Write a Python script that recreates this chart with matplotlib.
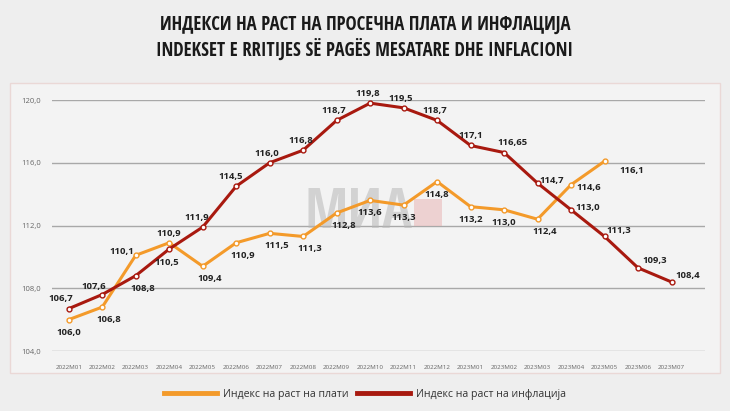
import matplotlib
matplotlib.use("Agg")
import matplotlib.pyplot as plt
from matplotlib.patches import Rectangle

months = ["2022M01", "2022M02", "2022M03", "2022M04", "2022M05", "2022M06", "2022M07",
          "2022M08", "2022M09", "2022M10", "2022M11", "2022M12", "2023M01", "2023M02",
          "2023M03", "2023M04", "2023M05", "2023M06", "2023M07"]
wages = [106.0, 106.8, 110.1, 110.9, 109.4, 110.9, 111.5, 111.3, 112.8, 113.6, 113.3,
         114.8, 113.2, 113.0, 112.4, 114.6, 116.1]
inflation = [106.7, 107.6, 108.8, 110.5, 111.9, 114.5, 116.0, 116.8, 118.7, 119.8, 119.5,
             118.7, 117.1, 116.65, 114.7, 113.0, 111.3, 109.3, 108.4]
wage_labels = ["106,0", "106,8", "110,1", "110,9", "109,4", "110,9", "111,5", "111,3", "112,8",
               "113,6", "113,3", "114,8", "113,2", "113,0", "112,4", "114,6", "116,1"]
infl_labels = ["106,7", "107,6", "108,8", "110,5", "111,9", "114,5", "116,0", "116,8", "118,7",
               "119,8", "119,5", "118,7", "117,1", "116,65", "114,7", "113,0", "111,3", "109,3", "108,4"]
yticks = [104, 108, 112, 116, 120]
ytick_labels = ["104,0", "108,0", "112,0", "116,0", "120,0"]
title1 = "ИНДЕКСИ НА РАСТ НА ПРОСЕЧНА ПЛАТА И ИНФЛАЦИЈА"
title2 = "INDEKSET E RRITIJES SË PAGËS MESATARE DHE INFLACIONI"
legend_names = ["Индекс на раст на плати", "Индекс на раст на инфлација"]

# label offsets in points (style only)
wage_off = [(0, -9), (5, -9), (-10, 3), (0, 7), (5, -9), (5, -9), (5, -9), (5, -9), (5, -9),
            (0, -9), (0, -9), (0, -9), (0, -9), (0, -9), (5, -9), (13, -2), (20, -7)]
infl_off = [(-6, 7), (-6, 6), (5, -9), (-2, -10), (-4, 7), (-4, 7), (-2, 7), (-2, 7), (-2, 7),
            (-2, 7), (-2, 7), (-2, 7), (0, 7), (6, 7), (10, 2), (12, 2), (10, 4), (12, 5), (12, 5)]

ORANGE = "#f39a2a"
RED = "#a8190f"
TITLE_FONT = ["Open Sans Condensed", "Roboto", "DejaVu Sans"]
NUM_FONT = ["Open Sans", "DejaVu Sans"]

fig = plt.figure(figsize=(7.30, 4.11), dpi=100)
fig.patch.set_facecolor("#eeeeee")

frame = Rectangle((10 / 730, 1 - 373 / 411), 710 / 730, 290 / 411,
                  transform=fig.transFigure, facecolor="#f3f3f3",
                  edgecolor="#ead8d6", linewidth=1.0, zorder=-5)
fig.patches.append(frame)

fig.text(0.5, 1 - 25 / 411, title1, ha="center", va="center", fontsize=13.5,
         fontweight="bold", family=TITLE_FONT, color="#1a1a1a")
fig.text(0.5, 1 - 50 / 411, title2, ha="center", va="center", fontsize=13.5,
         fontweight="bold", family=TITLE_FONT, color="#1a1a1a")

ax = fig.add_axes([52 / 730, 1 - 351 / 411, (705 - 52) / 730, (351 - 100) / 411])
ax.set_facecolor("none")
x_all = list(range(len(months)))
ax.set_xlim(-0.5, 19.0)
ax.set_ylim(104, 120)
ax.set_yticks(yticks)
ax.set_yticklabels(ytick_labels, fontsize=5.5, color="#666666", family=NUM_FONT)
ax.set_xticks(x_all)
ax.set_xticklabels(months, fontsize=4.5, color="#666666", family=NUM_FONT)
ax.tick_params(length=0, pad=8)
ax.tick_params(axis="x", pad=10)
for s in ax.spines.values():
    s.set_visible(False)
ax.grid(axis="y", color="#a8a8a8", linewidth=1.0)
ax.set_axisbelow(True)

# watermark logo
ax.text(10.25, 112.75, "МИА", fontsize=40, fontweight="bold", color="#b8b8b8",
        alpha=0.55, ha="right", va="center", family=TITLE_FONT, zorder=1)
ax.add_patch(Rectangle((10.3, 111.95), 0.85, 1.75, facecolor="#e9b0b0", alpha=0.5,
                       edgecolor="none", zorder=1))

xw = list(range(len(wages)))
ax.plot(xw, wages, color=ORANGE, linewidth=2.2, marker="o", markersize=3.5,
        markerfacecolor="white", markeredgecolor=ORANGE, markeredgewidth=1, zorder=3,
        label=legend_names[0])
ax.plot(x_all, inflation, color=RED, linewidth=2.2, marker="o", markersize=3.5,
        markerfacecolor="white", markeredgecolor=RED, markeredgewidth=1, zorder=4,
        label=legend_names[1])

for xi, v, lab, off in zip(xw, wages, wage_labels, wage_off):
    ax.annotate(lab, (xi, v), xytext=off, textcoords="offset points", ha="center",
                va="center", fontsize=6.8, fontweight="bold", color="#222222",
                family=NUM_FONT, zorder=5)
for xi, v, lab, off in zip(x_all, inflation, infl_labels, infl_off):
    ax.annotate(lab, (xi, v), xytext=off, textcoords="offset points", ha="center",
                va="center", fontsize=6.8, fontweight="bold", color="#222222",
                family=NUM_FONT, zorder=5)

leg = fig.legend(loc="center", bbox_to_anchor=(0.5, 1 - 394 / 411), ncol=2, frameon=False,
                 handlelength=5.0, handletextpad=0.6, columnspacing=0.8,
                 prop={"family": NUM_FONT, "size": 7.6})
for t in leg.get_texts():
    t.set_color("#333333")
for h in leg.legend_handles:
    h.set_marker("")
    h.set_linewidth(3.5)

fig.savefig("out.png", dpi=100, facecolor=fig.get_facecolor())
